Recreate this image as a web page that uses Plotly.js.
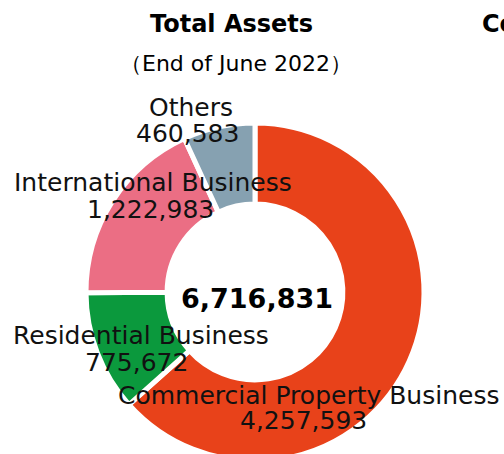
<!DOCTYPE html>
<html>
<head>
<meta charset="utf-8">
<script src="https://cdn.plot.ly/plotly-3.0.1.min.js"></script>
<style>html,body{margin:0;padding:0;overflow:hidden;background:#fff;}</style>
</head>
<body>
<div id="chart"></div>
<script>
// Data
const segments = ["Commercial Property Business", "Residential Business", "International Business", "Others"];
const values = [4257593, 775672, 1222983, 460583];
const colors = ["#E8421A", "#0B993D", "#EB6E84", "#86A1B1"];
const titleText = "Total Assets";
const subtitleText = "（End of June 2022）";
const nextTitleText = "Co";

const W = 504, H = 470;
const fmt = v => v.toLocaleString("en-US");
const total = values.reduce((a, b) => a + b, 0);

// label placement (pixel centres, from top-left)
const labelPos = [
  {name: [308, 395], value: [303, 420]},
  {name: [141, 336], value: [136, 362]},
  {name: [153, 183], value: [150, 209]},
  {name: [191, 107], value: [187, 134]}
];
const FONT = "DejaVu Sans, Verdana, sans-serif";
const px = (x, y) => ({x: x / W, y: (H - y) / H});

const annotations = [];
segments.forEach((s, i) => {
  const a = px(...labelPos[i].name), b = px(...labelPos[i].value);
  annotations.push({xref: "paper", yref: "paper", x: a.x, y: a.y, xanchor: "center", yanchor: "middle",
    text: s, showarrow: false, font: {family: FONT, size: 25, color: "#111"}});
  annotations.push({xref: "paper", yref: "paper", x: b.x, y: b.y, xanchor: "center", yanchor: "middle",
    text: fmt(values[i]), showarrow: false, font: {family: FONT, size: 25, color: "#111"}});
});
const c = px(257, 298);
annotations.push({xref: "paper", yref: "paper", x: c.x, y: c.y, xanchor: "center", yanchor: "middle",
  text: "<b>" + fmt(total) + "</b>", showarrow: false, font: {family: FONT, size: 27, color: "#000"}});
const t = px(231, 24);
annotations.push({xref: "paper", yref: "paper", x: t.x, y: t.y, xanchor: "center", yanchor: "middle",
  text: "<b>" + titleText + "</b>", showarrow: false, font: {family: FONT, size: 24, color: "#000"}});
const st = px(236, 63);
annotations.push({xref: "paper", yref: "paper", x: st.x, y: st.y, xanchor: "center", yanchor: "middle",
  text: subtitleText, showarrow: false, font: {family: FONT, size: 22, color: "#000"}});
const nt = px(480, 24);
annotations.push({xref: "paper", yref: "paper", x: nt.x, y: nt.y, xanchor: "left", yanchor: "middle",
  text: "<b>" + nextTitleText + "</b>", showarrow: false, font: {family: FONT, size: 24, color: "#000"}});

const cx = 255, cy = 292, R = 169;
const trace = {
  type: "pie",
  labels: segments,
  values: values,
  sort: false,
  direction: "clockwise",
  rotation: 0,
  hole: 0.52,
  textinfo: "none",
  marker: {colors: colors, line: {color: "#ffffff", width: 5}},
  domain: {x: [(cx - R) / W, (cx + R) / W], y: [(H - cy - R) / H, (H - cy + R) / H]},
  showlegend: false
};

Plotly.newPlot("chart", [trace], {
  width: W, height: H,
  margin: {l: 0, r: 0, t: 0, b: 0},
  paper_bgcolor: "#ffffff",
  plot_bgcolor: "#ffffff",
  showlegend: false,
  annotations: annotations
}, {displayModeBar: false, staticPlot: true});
</script>
</body>
</html>
